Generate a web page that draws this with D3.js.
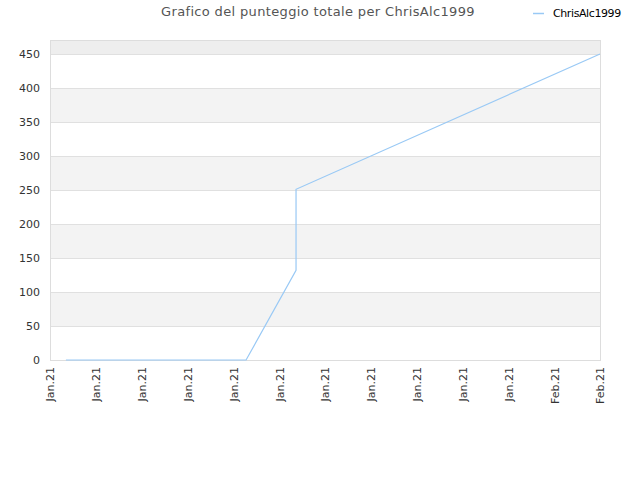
<!doctype html>
<html lang="it">
<head>
  <meta charset="utf-8">
  <title>Grafico del punteggio totale per ChrisAlc1999</title>
  <script src="https://cdn.jsdelivr.net/npm/d3@7"></script>
  <style>
    body { margin: 0; background: #fff; }
    text { font-family: "DejaVu Sans", sans-serif; }
  </style>
</head>
<body>
  <div id="chart"></div>
  <script>
  // punteggio totale nel tempo
  var dates = ["2021-01-02T01:00", "2021-01-13T20:00", "2021-01-17T02:30", "2021-01-17T02:30", "2021-02-06T00:00"];
  var scores = [0, 0, 132, 251, 450];
  var tickDates = ["2021-01-01", "2021-01-04", "2021-01-07", "2021-01-10", "2021-01-13", "2021-01-16",
                   "2021-01-19", "2021-01-22", "2021-01-25", "2021-01-28", "2021-01-31", "2021-02-03", "2021-02-06"];
  var yTicks = [0, 50, 100, 150, 200, 250, 300, 350, 400, 450];
  var seriesName = "ChrisAlc1999";

  var width = 640, height = 480,
      plotLeft = 50, plotRight = 600, plotTop = 40, plotBottom = 360;

  var parse = d3.timeParse("%Y-%m-%dT%H:%M");
  var parseDay = d3.timeParse("%Y-%m-%d");
  var data = dates.map(function(d, i){ return {date: parse(d), value: scores[i]}; });
  var ticks = tickDates.map(parseDay);

  var x = d3.scaleTime().domain([ticks[0], ticks[ticks.length - 1]]).range([plotLeft, plotRight]);
  var y = d3.scaleLinear().domain([0, 470.6]).range([plotBottom, plotTop]);

  var svg = d3.select("#chart").append("svg")
      .attr("width", width).attr("height", height);

  // fasce alternate
  var bands = yTicks.concat([470.6]);
  for (var i = 0; i < bands.length - 1; i++) {
    if (i % 2 == 1) {
      svg.append("rect")
        .attr("x", plotLeft).attr("width", plotRight - plotLeft)
        .attr("y", y(bands[i + 1])).attr("height", y(bands[i]) - y(bands[i + 1]))
        .attr("fill", i == bands.length - 2 ? "#eeeeee" : "#f3f3f3");
    }
  }

  svg.selectAll("line.grid")
    .data(yTicks.slice(1))
    .enter().append("line")
    .attr("class", "grid")
    .attr("x1", plotLeft).attr("x2", plotRight)
    .attr("y1", function(d){ return Math.round(y(d)) + 0.5; })
    .attr("y2", function(d){ return Math.round(y(d)) + 0.5; })
    .attr("stroke", "#e0e0e0");

  svg.append("rect")
    .attr("x", plotLeft + 0.5).attr("y", plotTop + 0.5)
    .attr("width", plotRight - plotLeft).attr("height", plotBottom - plotTop)
    .attr("fill", "none").attr("stroke", "#dddddd");

  // asse y
  var yAxis = svg.append("g")
    .attr("transform", "translate(" + plotLeft + ",0)")
    .call(d3.axisLeft(y).tickValues(yTicks).tickSize(0).tickPadding(10));
  yAxis.select(".domain").remove();
  yAxis.selectAll("text").attr("font-size", 11).attr("fill", "#333").attr("font-family", "DejaVu Sans, sans-serif");

  // asse x
  var fmt = d3.timeFormat("%b.%y");
  var xAxis = svg.append("g")
    .attr("transform", "translate(0," + plotBottom + ")")
    .call(d3.axisBottom(x).tickValues(ticks).tickFormat(fmt).tickSize(0));
  xAxis.select(".domain").remove();
  xAxis.selectAll("text")
    .attr("font-size", 11).attr("fill", "#333").attr("font-family", "DejaVu Sans, sans-serif")
    .attr("text-anchor", "end")
    .attr("dy", "0.35em")
    .attr("transform", "translate(0,7) rotate(-90)")
    .attr("y", 0).attr("x", 0);

  var line = d3.line()
    .x(function(d){ return x(d.date); })
    .y(function(d){ return y(d.value); });

  svg.append("path")
    .datum(data)
    .attr("d", line)
    .attr("fill", "none")
    .attr("stroke", "#99c9f5")
    .attr("stroke-width", 1.2);

  // titolo
  svg.append("text")
    .attr("x", 318).attr("y", 16)
    .attr("text-anchor", "middle")
    .attr("font-size", 13).attr("fill", "#555")
    .attr("letter-spacing", 0.35)
    .text("Grafico del punteggio totale per " + seriesName);

  // legenda
  svg.append("line")
    .attr("x1", 533).attr("x2", 544).attr("y1", 13.5).attr("y2", 13.5)
    .attr("stroke", "#99c9f5").attr("stroke-width", 1.5);
  svg.append("text")
    .attr("x", 553).attr("y", 17)
    .attr("font-size", 11).attr("fill", "#000")
    .attr("letter-spacing", -0.4)
    .text(seriesName);
  </script>
</body>
</html>
